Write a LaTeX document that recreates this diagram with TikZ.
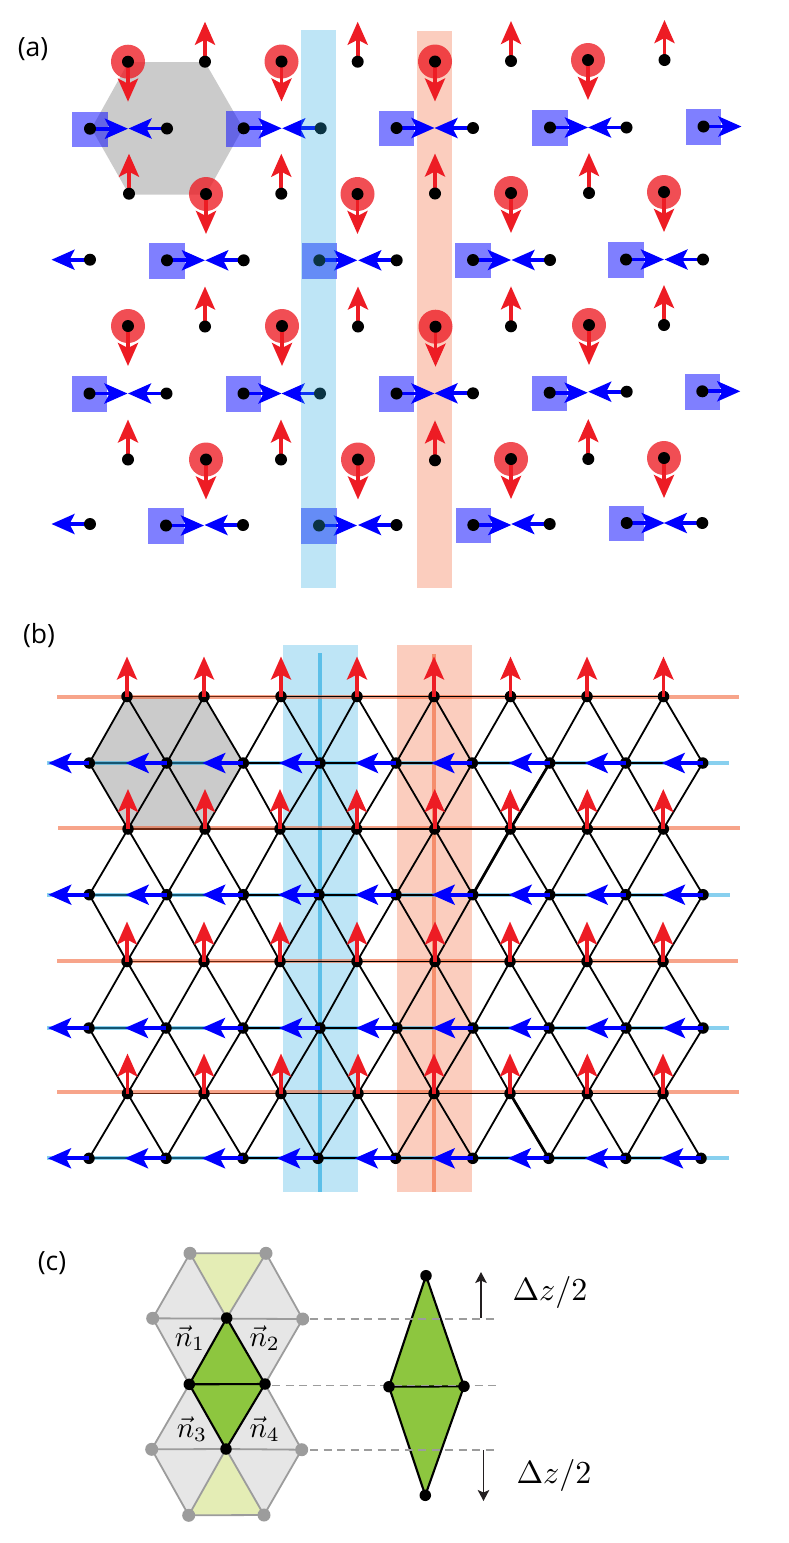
\documentclass[tikz,border=0pt]{standalone}
\usepackage{fontspec}
\newfontfamily\labelfont{Open Sans}
\usetikzlibrary{arrows.meta}
\pgfdeclarelayer{bg}
\pgfdeclarelayer{top}
\pgfsetlayers{bg,main,top}
\definecolor{myred}{HTML}{ED1C24}
\definecolor{myblue}{HTML}{0000FF}
\definecolor{cyanish}{HTML}{27AAE1}
\definecolor{orangish}{HTML}{F15A29}
\definecolor{leaf}{HTML}{8DC63F}
\definecolor{paleleaf}{HTML}{E4EDB5}
\definecolor{palegray}{HTML}{E6E6E6}
\definecolor{midgray}{HTML}{9C9C9C}
\definecolor{hexgray}{HTML}{CBCBCB}
\definecolor{inkblack}{HTML}{231F20}
\tikzset{
  dot/.style={circle,fill=black,inner sep=0pt,minimum size=12pt},
  ldot/.style={circle,fill=black,inner sep=0pt,minimum size=11.5pt},
  gdot/.style={circle,fill=midgray,inner sep=0pt,minimum size=13pt},
  disc/.style={circle,fill=myred,fill opacity=.78,inner sep=0pt,minimum size=34pt},
  sq/.style={rectangle,fill=myblue,fill opacity=.5,inner sep=0pt,minimum size=35.5pt},
  redarrow/.style={draw=myred,line width=3.8pt,-{Stealth[length=23pt,width=20pt,inset=5pt]}},
  bluearrow/.style={draw=myblue,line width=3.8pt,-{Stealth[length=23pt,width=20pt,inset=5pt]}},
  edge/.style={draw=black,line width=1.8pt},
  edgeheavy/.style={draw=black,line width=2.7pt},
  rowred/.style={draw=orangish,draw opacity=.55,line width=4pt},
  rowblue/.style={draw=cyanish,draw opacity=.55,line width=4pt},
  stripblue/.style={fill=cyanish,fill opacity=.3},
  striporange/.style={fill=orangish,fill opacity=.3},
  graytri/.style={fill=palegray},
  paletri/.style={fill=paleleaf},
  greentri/.style={fill=leaf},
  gedge/.style={draw=midgray,line width=1.8pt},
  kedge/.style={draw=black,line width=2.1pt},
  guide/.style={draw=midgray,line width=1.7pt,dash pattern=on 8pt off 5.5pt},
  dz/.style={draw=inkblack,line width=1.7pt,-{Stealth[length=11pt,width=11.5pt,inset=2.5pt]}},
  panel/.style={font=\labelfont\fontsize{26.5}{30}\selectfont,inner sep=0pt,text=black},
  mathlab/.style={inner sep=0pt,scale=2.9},
  dzlab/.style={inner sep=0pt,scale=3.2}
}
\begin{document}
\begin{tikzpicture}[x=1pt,y=-1pt]
\useasboundingbox (0,0) rectangle (788,1543);

\node[panel] (la) at (33,49) {(a)};
\node[panel] (lb) at (39,636) {(b)};
\node[panel] (lc) at (52,1263) {(c)};

% ---------- panel (a)
\begin{pgfonlayer}{bg}
  \fill[hexgray] (128.5,62) -- (205,62) -- (243,128) -- (206,194.5) -- (129,194.5) -- (91.5,128.5) -- cycle;
  \fill[striporange] (417,31) rectangle (452,588);
\end{pgfonlayer}
\begin{pgfonlayer}{top}
  \fill[stripblue] (301,29.5) rectangle (336,588);
\end{pgfonlayer}

% spin-down sites: disc and down arrow
\foreach \x/\y [count=\k] in {128/61.7,281.5/61.5,435/61.5,588/60,
    206/194,357.5/194,511/193,664/192,
    128/326,282/326,435.5/326.7,589/325,
    206/459.5,358/459.5,511/459,664/458}{
  \node[dot] (dn\k) at (\x,\y) {};
  \coordinate (dnt\k) at (\x,\y+40);
  \begin{pgfonlayer}{bg}
    \node[disc] (dnc\k) at (\x,\y) {};
    \draw[redarrow] (dn\k.center) -- (dnt\k);
  \end{pgfonlayer}
}
% spin-up sites
\foreach \x/\y [count=\k] in {205/61.7,357.7/61.7,511/61,664.5/60,
    129/193.7,281.3/193.7,435/193.5,589/193,
    205/326.5,358/326.5,511/326.3,664/325,
    128/459.5,281/459.5,435/460.3,588.3/459}{
  \node[dot] (up\k) at (\x,\y) {};
  \coordinate (upt\k) at (\x,\y-40);
  \begin{pgfonlayer}{bg}
    \draw[redarrow] (up\k.center) -- (upt\k);
  \end{pgfonlayer}
}
% right-pointing sites with squares
\foreach \x/\y [count=\k] in {90/128.7,243.7/128.3,396.5/128,550/127.5,703.5/126.5,
    167/260.3,319.3/260.3,473/260,626/259.5,
    89.5/393.5,243.5/393.5,396.5/393.5,549.7/392.7,702.3/391.3,
    166/525.5,319/525.5,473.3/525,626.7/523}{
  \node[dot] (ri\k) at (\x,\y) {};
  \coordinate (rit\k) at (\x+38,\y);
  \begin{pgfonlayer}{bg}
    \node[sq] (ris\k) at (\x,\y+.7) {};
    \draw[bluearrow] (ri\k.center) -- (rit\k);
  \end{pgfonlayer}
}
% left-pointing sites
\foreach \x/\y [count=\k] in {167/128.5,320.7/128.3,473/128,626.5/127.5,
    90/259.7,243.7/260.3,396.7/260.3,550/260,703/259.5,
    166.5/393.5,320/393.5,473/393.3,626.7/391.7,
    90/524,243/525,396.5/525,549.7/524,702.3/523}{
  \node[dot] (le\k) at (\x,\y) {};
  \coordinate (let\k) at (\x-38.5,\y);
  \begin{pgfonlayer}{bg}
    \draw[bluearrow] (le\k.center) -- (let\k);
  \end{pgfonlayer}
}

% ---------- panel (b)
\begin{pgfonlayer}{bg}
  \fill[hexgray] (127.5,696.5) -- (204,696.5) -- (243,763) -- (205,828.5) -- (128,828.5) -- (89.5,763) -- cycle;
  \fill[stripblue] (283,645) rectangle (358.3,1192);
  \fill[striporange] (396.7,645) rectangle (472.3,1192);
  \draw[draw=cyanish,draw opacity=.65,line width=3.6pt] (320,653) -- (320,1192);
  \draw[draw=orangish,draw opacity=.55,line width=4pt] (434,654) -- (434,1192);
  \draw[rowred] (57,696.7) -- (739,696.7);
  \draw[rowred] (58,827.8) -- (740,827.8);
  \draw[rowred] (57,961) -- (738,961);
  \draw[rowred] (57,1092) -- (739,1092);
  \draw[rowblue] (47,763.2) -- (729,763.2);
  \draw[rowblue] (47,894.5) -- (730,894.5);
  \draw[rowblue] (47,1028) -- (729,1028);
  \draw[rowblue] (47,1158.3) -- (729,1158.3);
\end{pgfonlayer}

\foreach \r/\y/\xs in {1/696.5/{127,204,281,357,434,510.5,587,663.5},
    2/829/{128,205,280,356.7,434.7,510.3,587.3,663.3},
    3/961.5/{127,204,280,357,435,510,587,663},
    4/1093.5/{127.5,204,281,358,434,510,587.3,663}}{
  \foreach \x [count=\i] in \xs {
    \node[ldot] (r\r-\i) at (\x,\y) {};
    \coordinate (rt\r-\i) at (\x,\y-40);
    \begin{pgfonlayer}{top}
      \draw[redarrow] (r\r-\i.center) -- (rt\r-\i);
    \end{pgfonlayer}
  }
}
\foreach \r/\y/\xs in {1/763/{89.3,166.7,243.3,320,396,472.3,549.7,625.7,702.7},
    2/894.7/{89.3,166.7,243.3,319,396,472.7,549.7,625.7,703},
    3/1028/{89,166,243,320,397,473,549,626,703},
    4/1158.3/{89,166,243,318,395.7,472.7,548.7,625.7,701}}{
  \foreach \x [count=\i] in \xs {
    \node[ldot] (b\r-\i) at (\x,\y) {};
    \coordinate (bt\r-\i) at (\x-41,\y);
    \begin{pgfonlayer}{top}
      \draw[bluearrow] (b\r-\i.center) -- (bt\r-\i);
    \end{pgfonlayer}
  }
}
\begin{pgfonlayer}{bg}
  \foreach \r in {1,2,3,4}{
    \draw[draw=black!55!orangish,line width=1.8pt] (r\r-1.center) -- (r\r-3.center);
    \draw[edge] (r\r-3.center) -- (r\r-8.center);
    \draw[draw=black!50!cyanish,line width=1.8pt] (b\r-1.center) -- (b\r-3.center);
    \draw[edge] (b\r-3.center) -- (b\r-9.center);
    \foreach \i [evaluate=\i as \j using int(\i+1)] in {1,...,8}{
      \draw[edge] (r\r-\i.center) -- (b\r-\i.center);
      \draw[edge] (r\r-\i.center) -- (b\r-\j.center);
    }
  }
  \foreach \r [evaluate=\r as \s using int(\r+1)] in {1,2,3}{
    \foreach \i [evaluate=\i as \j using int(\i+1)] in {1,...,8}{
      \draw[edge] (r\s-\i.center) -- (b\r-\i.center);
      \draw[edge] (r\s-\i.center) -- (b\r-\j.center);
    }
  }
  \draw[edgeheavy] (b1-7.center) -- (r2-6.center);
  \draw[edgeheavy] (r2-6.center) -- (b2-6.center);
  \draw[edgeheavy] (r4-6.center) -- (b4-7.center);
\end{pgfonlayer}

% ---------- panel (c)
\node[gdot] (c1) at (190,1253.3) {};
\node[gdot] (c2) at (266,1253.3) {};
\node[gdot] (c3) at (152.7,1318.3) {};
\node[ldot] (c4) at (226.7,1318) {};
\node[gdot] (c5) at (302.7,1319) {};
\node[ldot] (c6) at (189.3,1384.3) {};
\node[ldot] (c7) at (265,1384) {};
\node[gdot] (c8) at (151.7,1449.3) {};
\node[ldot] (c9) at (226,1449) {};
\node[gdot] (c10) at (301.7,1449.7) {};
\node[gdot] (c11) at (188.7,1515.3) {};
\node[gdot] (c12) at (264,1515) {};
\node[ldot] (d1) at (426,1275.7) {};
\node[ldot] (d2) at (389,1386.7) {};
\node[ldot] (d3) at (464,1386.3) {};
\node[ldot] (d4) at (425.3,1495.3) {};
\coordinate (g1a) at (310,1319);
\coordinate (g1b) at (496,1319);
\coordinate (g2a) at (272,1385.5);
\coordinate (g2b) at (496,1385.5);
\coordinate (g3a) at (310,1450);
\coordinate (g3b) at (496,1450);
\coordinate (u1) at (481,1318);
\coordinate (u2) at (481,1272);
\coordinate (v1) at (483.5,1450);
\coordinate (v2) at (483.5,1501);

\begin{pgfonlayer}{bg}
  \path[graytri] (c1.center) -- (c3.center) -- (c5.center) -- (c2.center) -- cycle;
  \path[graytri] (c3.center) -- (c6.center) -- (c7.center) -- (c5.center) -- cycle;
  \path[graytri] (c8.center) -- (c6.center) -- (c7.center) -- (c10.center) -- cycle;
  \path[graytri] (c8.center) -- (c10.center) -- (c12.center) -- (c11.center) -- cycle;
  \path[paletri] (c1.center) -- (c2.center) -- (c4.center) -- cycle;
  \path[paletri] (c11.center) -- (c12.center) -- (c9.center) -- cycle;
  \draw[gedge] (c3.center) -- (c1.center) -- (c2.center) -- (c5.center) -- (c3.center);
  \draw[gedge] (c1.center) -- (c4.center) -- (c2.center);
  \draw[gedge] (c3.center) -- (c6.center);
  \draw[gedge] (c5.center) -- (c7.center);
  \draw[gedge] (c6.center) -- (c8.center) -- (c9.center);
  \draw[gedge] (c7.center) -- (c10.center) -- (c9.center);
  \draw[gedge] (c8.center) -- (c11.center) -- (c12.center) -- (c10.center);
  \draw[gedge] (c11.center) -- (c9.center) -- (c12.center);
  \path[greentri] (c4.center) -- (c6.center) -- (c9.center) -- (c7.center) -- cycle;
  \draw[kedge] (c4.center) -- (c6.center) -- (c9.center) -- (c7.center) -- cycle;
  \draw[kedge] (c6.center) -- (c7.center);
  \path[greentri] (d1.center) -- (d2.center) -- (d4.center) -- (d3.center) -- cycle;
  \draw[kedge] (d1.center) -- (d2.center) -- (d4.center) -- (d3.center) -- cycle;
  \draw[kedge] (d2.center) -- (d3.center);
  \draw[guide] (g1a) -- (g1b);
  \draw[guide] (g2a) -- (g2b);
  \draw[guide] (g3a) -- (g3b);
\end{pgfonlayer}
\draw[dz] (u1) -- (u2);
\draw[dz] (v1) -- (v2);

\node[mathlab] (n1) at (190,1338) {$\vec{n}_1$};
\node[mathlab] (n2) at (264.7,1338) {$\vec{n}_2$};
\node[mathlab] (n3) at (192,1429) {$\vec{n}_3$};
\node[mathlab] (n4) at (264.7,1429) {$\vec{n}_4$};
\node[dzlab] (t1) at (550,1292) {$\Delta z/2$};
\node[dzlab] (t2) at (554,1475) {$\Delta z/2$};
\end{tikzpicture}
\end{document}
